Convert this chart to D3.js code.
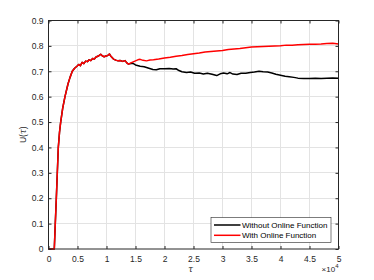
<!DOCTYPE html>
<html lang="en">
<head>
<meta charset="utf-8">
<title>U(tau)</title>
<style>
 body { margin: 0; background: #fff; font-family: "Liberation Sans", Arial, sans-serif; }
 .tick text { fill: #262626; }
</style>
<script src="https://d3js.org/d3.v7.min.js"></script>
</head>
<body>
<div id="chart"></div>
<script>

 // Data
 const sharedTau = [0, 1000, 1170, 1350, 1520, 1690, 1900, 2100, 2450, 2840, 3360, 3700, 4100, 4500, 4900, 5200, 5500, 5800, 6100, 6400, 6700, 7000, 7300, 7600, 7900, 8200, 8600, 9000, 9300, 9600, 9900, 10200, 10500, 10800, 11200, 11600, 12000, 12400, 12800, 13200, 13500, 13800];
 const sharedU = [0, 0, 0.1, 0.2, 0.3, 0.4, 0.46, 0.5, 0.555, 0.6, 0.65, 0.675, 0.70, 0.712, 0.72, 0.727, 0.722, 0.735, 0.73, 0.74, 0.738, 0.745, 0.742, 0.75, 0.748, 0.756, 0.76, 0.767, 0.76, 0.757, 0.76, 0.762, 0.768, 0.758, 0.748, 0.744, 0.741, 0.742, 0.739, 0.742, 0.733, 0.728];

 const withoutTau = [14000, 14500, 15000, 15800, 16500, 17300, 18000, 18600, 19200, 20000, 20800, 21500, 22000, 22500, 23000, 23800, 24500, 25200, 26000, 26700, 27400, 28200, 29000, 29600, 30200, 30800, 31300, 31800, 32500, 33200, 34000, 34800, 35500, 36300, 37000, 37800, 38500, 39200, 40000, 40800, 41500, 42300, 43000, 44000, 45000, 46000, 47000, 48000, 49000, 50000];
 const withoutU = [0.73, 0.732, 0.725, 0.72, 0.718, 0.712, 0.707, 0.706, 0.71, 0.71, 0.711, 0.709, 0.71, 0.703, 0.698, 0.695, 0.697, 0.692, 0.693, 0.689, 0.692, 0.688, 0.683, 0.69, 0.693, 0.69, 0.695, 0.689, 0.687, 0.692, 0.692, 0.695, 0.697, 0.7, 0.698, 0.697, 0.693, 0.688, 0.684, 0.68, 0.678, 0.676, 0.673, 0.672, 0.672, 0.673, 0.672, 0.673, 0.674, 0.673];

 const withTau = [14200, 14600, 15000, 15400, 15800, 16300, 16900, 17500, 18100, 19000, 20000, 21000, 22000, 23000, 24000, 25000, 26000, 27000, 28000, 29000, 30000, 31000, 32000, 33000, 34000, 35000, 36000, 37000, 38000, 39000, 40000, 41000, 42000, 43000, 44000, 45000, 46000, 47000, 48000, 49000, 50000];
 const withU = [0.733, 0.737, 0.741, 0.745, 0.747, 0.743, 0.741, 0.744, 0.745, 0.748, 0.752, 0.755, 0.759, 0.762, 0.766, 0.769, 0.772, 0.776, 0.778, 0.78, 0.782, 0.786, 0.788, 0.79, 0.793, 0.796, 0.797, 0.798, 0.799, 0.8, 0.801, 0.803, 0.803, 0.804, 0.805, 0.806, 0.806, 0.807, 0.809, 0.81, 0.807];

 const xTicks = [0, 5000, 10000, 15000, 20000, 25000, 30000, 35000, 40000, 45000, 50000];
 const xTickLabels = ['0', '0.5', '1', '1.5', '2', '2.5', '3', '3.5', '4', '4.5', '5'];
 const yTicks = [0, 0.1, 0.2, 0.3, 0.4, 0.5, 0.6, 0.7, 0.8, 0.9];
 const seriesNames = ['Without Online Function', 'With Online Function'];
 const seriesColors = ['#000000', '#ff0000'];

 const zip = (a, b) => a.map((t, i) => ({tau: t, u: b[i]}));
 const series = [
     zip(sharedTau.concat(withoutTau), sharedU.concat(withoutU)),
     zip(sharedTau.concat(withTau), sharedU.concat(withU))
 ];

 // Display specs
 const W = 374, H = 280;
 const margin = {top: 20.5, left: 48.5, right: 35.5, bottom: 31};
 const width = W - margin.left - margin.right;
 const height = H - margin.top - margin.bottom;

 const svg = d3.select('#chart').append('svg')
	       .attr('width', W)
	       .attr('height', H);
 const g = svg.append('g')
	      .attr('transform', 'translate(' + margin.left + ',' + margin.top + ')');

 const x = d3.scaleLinear().domain([0, 50000]).range([0, width]);
 const y = d3.scaleLinear().domain([0, 0.9]).range([height, 0]);

 // Grid
 g.append('g').selectAll('line').data(xTicks.slice(1, -1)).enter().append('line')
  .attr('x1', d => Math.round(x(d))).attr('x2', d => Math.round(x(d)))
  .attr('y1', 0).attr('y2', height)
  .attr('stroke', '#e3e3e3').attr('stroke-width', 1);
 g.append('g').selectAll('line').data(yTicks.slice(1, -1)).enter().append('line')
  .attr('y1', d => Math.round(y(d))).attr('y2', d => Math.round(y(d)))
  .attr('x1', 0).attr('x2', width)
  .attr('stroke', '#e3e3e3').attr('stroke-width', 1);

 // Lines
 const line = d3.line().x(d => x(d.tau)).y(d => y(d.u));
 series.forEach((s, i) => {
     g.append('path')
      .datum(s)
      .attr('fill', 'none')
      .attr('stroke', seriesColors[i])
      .attr('stroke-width', 1.5)
      .attr('stroke-linejoin', 'round')
      .attr('d', line);
 });

 // Axes (MATLAB-style box, ticks inward)
 const styleAxis = sel => {
     sel.select('.domain').remove();
     sel.selectAll('.tick line').attr('stroke', '#262626');
     sel.selectAll('.tick text').style('font-size', '8.5px').style('font-family', '"Liberation Sans", Arial, sans-serif');
 };
 g.append('g')
  .attr('transform', 'translate(0,' + height + ')')
  .call(d3.axisBottom(x).tickValues(xTicks).tickFormat((d, i) => xTickLabels[i]).tickSize(-3).tickPadding(7))
  .call(styleAxis);
 g.append('g')
  .call(d3.axisTop(x).tickValues(xTicks).tickFormat('').tickSize(-3))
  .call(styleAxis);
 g.append('g')
  .call(d3.axisLeft(y).tickValues(yTicks).tickFormat(d3.format('.1~f')).tickSize(-3).tickPadding(5))
  .call(styleAxis);
 g.append('g')
  .attr('transform', 'translate(' + width + ',0)')
  .call(d3.axisRight(y).tickValues(yTicks).tickFormat('').tickSize(-3))
  .call(styleAxis);

 g.append('rect')
  .attr('width', width).attr('height', height)
  .attr('fill', 'none').attr('stroke', '#262626').attr('stroke-width', 1);

 // Axis labels
 g.append('text')
  .attr('x', width / 2 - 3).attr('y', height + 22.5)
  .attr('text-anchor', 'middle')
  .style('font-family', '"DejaVu Serif", serif').style('font-style', 'italic').style('font-size', '8.5px')
  .attr('fill', '#262626')
  .text('τ');
 const yl = g.append('text')
	     .attr('transform', 'translate(-23,' + (height / 2) + ')rotate(-90)')
	     .attr('text-anchor', 'middle')
	     .style('font-size', '8.5px')
	     .attr('fill', '#262626');
 yl.append('tspan').text('U(');
 yl.append('tspan').style('font-style', 'italic').style('font-family', '"DejaVu Serif", serif').text('τ');
 yl.append('tspan').text(')');

 const mult = g.append('text')
	       .attr('x', width).attr('y', height + 23)
	       .attr('text-anchor', 'end')
	       .style('font-size', '8px')
	       .attr('fill', '#262626');
 mult.append('tspan').text('×10');
 mult.append('tspan').attr('dy', -4).style('font-size', '6px').text('4');

 // Legend
 const lg = g.append('g').attr('transform', 'translate(' + (211 - margin.left) + ',' + (217.5 - margin.top) + ')');
 lg.append('rect')
   .attr('width', 120).attr('height', 25)
   .attr('fill', '#fff').attr('stroke', '#262626').attr('stroke-width', 0.6);
 seriesNames.forEach((name, i) => {
     const yy = 7.5 + i * 10.3;
     lg.append('line')
       .attr('x1', 3).attr('x2', 29.5).attr('y1', yy).attr('y2', yy)
       .attr('stroke', seriesColors[i]).attr('stroke-width', 1.5);
     lg.append('text')
       .attr('x', 31).attr('y', yy + 2.8)
       .style('font-size', '8px')
       .attr('fill', '#000')
       .text(name);
 });

</script>
</body>
</html>
